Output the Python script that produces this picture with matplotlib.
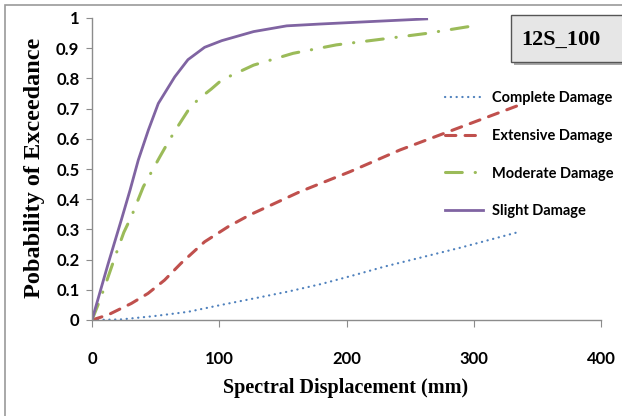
import matplotlib
matplotlib.use("Agg")
from matplotlib import pyplot as plt
from matplotlib.patches import Rectangle

# spectral displacement (mm) / probability
slight_x = [0, 12.6, 23.3, 29.9, 36.4, 44.3, 52.1, 58.7, 65, 75.4, 88.5, 102, 127, 153,
            179, 218, 263]
slight_y = [0, 0.185, 0.335, 0.43, 0.53, 0.629, 0.717, 0.762, 0.805, 0.862, 0.903, 0.925,
            0.955, 0.974, 0.980, 0.988, 0.997]

moderate_x = [0, 4.7, 10, 19, 25, 31.2, 40.3, 53.4, 60, 66.5, 75.7, 83.3, 93.8, 102, 127,
              158, 192, 226, 263, 304]
moderate_y = [0, 0.05, 0.11, 0.22, 0.29, 0.345, 0.441, 0.541, 0.59, 0.635, 0.695, 0.73,
              0.765, 0.795, 0.844, 0.883, 0.911, 0.929, 0.949, 0.977]

extensive_x = [0, 12.6, 31, 44, 57, 70, 88.5, 107, 124, 163.5, 202.7, 242, 273.5, 336]
extensive_y = [0, 0.017, 0.055, 0.088, 0.132, 0.188, 0.259, 0.309, 0.348, 0.425, 0.491,
               0.563, 0.613, 0.712]

complete_x = [0, 23, 49, 75.4, 101.6, 128, 154, 180, 206.4, 230, 290, 334]
complete_y = [0, 0.002, 0.013, 0.027, 0.05, 0.072, 0.094, 0.119, 0.149, 0.177, 0.24, 0.29]

labels = ["Complete Damage", "Extensive Damage", "Moderate Damage", "Slight Damage"]
x_ticks = [0, 100, 200, 300, 400]
y_ticks = [0, 0.1, 0.2, 0.3, 0.4, 0.5, 0.6, 0.7, 0.8, 0.9, 1]


def main():
    W, H = 622, 416
    fig = plt.figure(figsize=(W / 100, H / 100), dpi=100)
    ax = fig.add_axes([92 / W, 1 - 320 / H, (601 - 92) / W, (320 - 18) / H])

    ax.plot(complete_x, complete_y, color="#4F81BD", lw=1.6, ls=(0, (0.1, 2.5)),
            dash_capstyle="round", label=labels[0])
    ax.plot(extensive_x, extensive_y, color="#C0504D", lw=2.2, ls=(0, (3.4, 3.0)),
            dash_capstyle="round", label=labels[1])
    ax.plot(moderate_x, moderate_y, color="#9BBB59", lw=2.2,
            ls=(0, (5.5, 4.2, 0.1, 4.2)), dash_capstyle="round", label=labels[2])
    ax.plot(slight_x, slight_y, color="#8064A2", lw=2.0, label=labels[3])

    ax.set_xlim(0, 400)
    ax.set_ylim(0, 1)
    ax.set_xticks(x_ticks)
    ax.set_yticks(y_ticks)
    ax.set_xticklabels([str(v) for v in x_ticks])
    ax.set_yticklabels(["0" if v == 0 else ("1" if v == 1 else f"{v:.1f}") for v in y_ticks])
    for s in ["top", "right"]:
        ax.spines[s].set_visible(False)
    for s in ["left", "bottom"]:
        ax.spines[s].set_color("#8c8c8c")
        ax.spines[s].set_linewidth(1.0)
    ax.tick_params(axis="y", direction="out", length=4, color="#8c8c8c", pad=5)
    ax.tick_params(axis="x", direction="out", length=5, color="#8c8c8c", pad=17)
    for t in ax.get_xticklabels() + ax.get_yticklabels():
        t.set_fontfamily("Lato")
        t.set_fontweight("bold")
        t.set_fontsize(12)

    fig.text(35 / W, 1 - 168 / H, "Pobability of Exceedance", rotation=90,
             ha="center", va="center", fontfamily="Liberation Serif",
             fontweight="bold", fontsize=17.5)
    fig.text(346 / W, 1 - 388 / H, "Spectral Displacement (mm)", ha="center",
             va="center", fontfamily="Liberation Serif", fontweight="bold",
             fontsize=14.5)

    ax.legend(loc="upper left", bbox_to_anchor=(445 / W, 1 - 91 / H),
              bbox_transform=fig.transFigure, frameon=False,
              prop={"family": "Lato", "weight": "bold", "size": 10.5},
              handlelength=2.6, labelspacing=1.63, handletextpad=0.6,
              borderpad=0, borderaxespad=0)

    # outer border of the chart area
    fig.patches.append(Rectangle((5 / W, -0.1), 1.2, 1.1 - 5 / H,
                                 transform=fig.transFigure, fill=False,
                                 edgecolor="#9a9a9a", lw=1.2))
    # title box with shadow
    fig.patches.append(Rectangle((514 / W, 1 - 65 / H), 120 / W, 47 / H,
                                 transform=fig.transFigure, facecolor="#a8a8a8",
                                 edgecolor="none"))
    fig.patches.append(Rectangle((511 / W, 1 - 62 / H), 120 / W, 47 / H,
                                 transform=fig.transFigure, facecolor="#e6e6e6",
                                 edgecolor="#555555", lw=1.0))
    fig.text(561 / W, 1 - 40 / H, "12S_100", ha="center", va="center",
             fontfamily="Liberation Serif", fontweight="bold", fontsize=16)

    fig.savefig("out.png", dpi=100)


if __name__ == "__main__":
    main()
